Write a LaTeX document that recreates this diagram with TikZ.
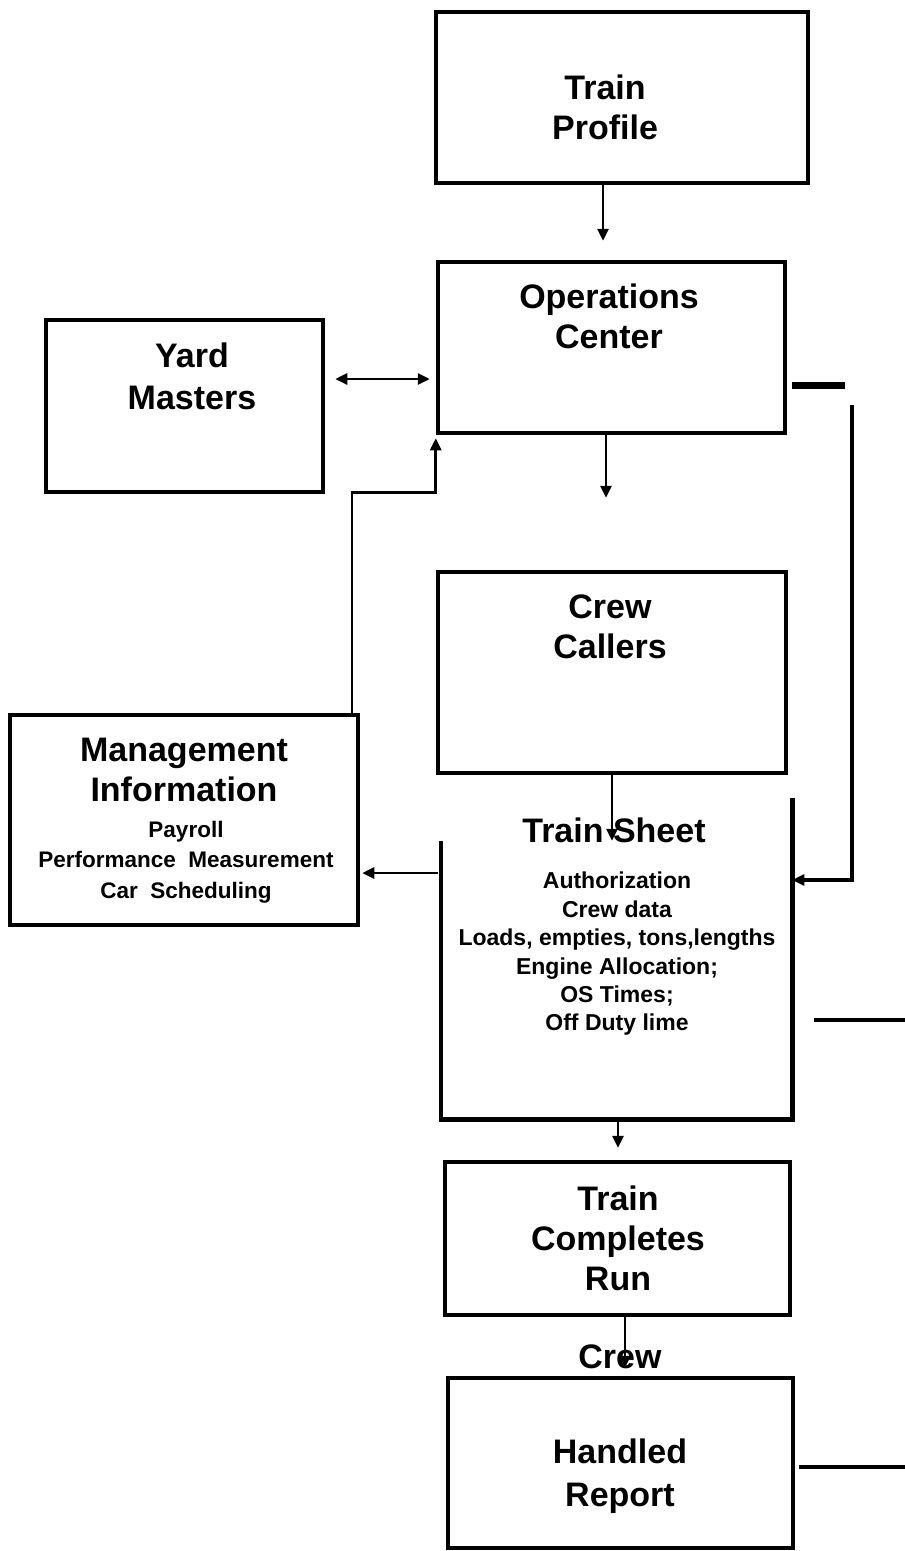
\documentclass[tikz,border=0pt]{standalone}
\usepackage{fontspec}
\setmainfont{Liberation Sans}
\usetikzlibrary{arrows.meta}

\begin{document}
\begin{tikzpicture}[x=1pt,y=-1pt,>={Triangle[length=12pt,width=11pt]},
    box/.style={draw,line width=4.5pt,rectangle,inner sep=0pt},
    title/.style={font=\fontsize{34}{40}\selectfont\bfseries,align=center},
    items/.style={font=\fontsize{23}{28.4}\selectfont\bfseries,align=center},
    subitems/.style={font=\fontsize{22.5}{30.5}\selectfont\bfseries,align=center},
    arr/.style={line width=2.8pt,->},
    link/.style={line width=2.8pt}]
    \useasboundingbox[fill=white] (0,0) rectangle (905,1551);

    \node[box,minimum width=372pt,minimum height=171pt] (tp) at (622,97.5) {};
    \node[box,minimum width=347pt,minimum height=171pt] (oc) at (611.5,347.5) {};
    \node[box,minimum width=277pt,minimum height=172pt] (ym) at (184.5,406) {};
    \node[box,minimum width=348pt,minimum height=201pt] (cc) at (612,672.5) {};
    \node[box,minimum width=348pt,minimum height=210pt] (mi) at (184,820) {};
    \node[box,draw=none,minimum width=347pt,minimum height=317pt] (ts) at (616.5,958.5) {};
    \draw[line width=4.5pt] ([yshift=-43pt]ts.north west) -- (ts.south west) -- (ts.south east) -- (ts.north east);
    \node[box,minimum width=345pt,minimum height=153pt] (tc) at (617.5,1238.5) {};
    \node[box,minimum width=345pt,minimum height=170pt] (hr) at (620.5,1463) {};

    \node[title] (tpText) at (605,107.5) {Train\\Profile};
    \node[title] (ocText) at (609,316) {Operations\\Center};
    \node[title,font=\fontsize{34}{42}\selectfont\bfseries] (ymText) at (192,376) {Yard\\Masters};
    \node[title] (ccText) at (610,626.5) {Crew\\Callers};
    \node[title] (miText) at (184,770) {Management\\Information};
    \node[subitems] (miItems) at (186,862) {Payroll\\Performance\ \ Measurement\\Car\ \ Scheduling};
    \node[title] (tsText) at (614,830) {Train Sheet};
    \node[items] (tsItems) at (617,954) {Authorization\\Crew data\\Loads, empties, tons,lengths\\Engine Allocation;\\OS Times;\\Off Duty lime};
    \node[title] (tcText) at (618,1238) {Train\\Completes\\Run};
    \node[title,font=\fontsize{34}{43}\selectfont\bfseries] (hrText) at (620,1476) {Handled\\Report};
    \node[title] (crew) at (620,1357) {Crew};

    \coordinate (ocStub) at (845,385);
    \coordinate (loopTop) at (852,405);
    \coordinate (tsStub) at (905,1020);
    \coordinate (hrStub) at (905,1467);

    \draw[arr] ([xshift=-19pt]tp.south) -- ([xshift=-8.5pt,yshift=19pt]oc.north);
    \draw[link,<->] ([xshift=10pt,yshift=27pt]ym.east) -- ([xshift=-6pt,yshift=-31.5pt]oc.west);
    \draw[line width=7pt] ([xshift=5pt,yshift=-37.5pt]oc.east) -- (ocStub);
    \draw[arr,line width=3.5pt] (loopTop) |- ([yshift=78.5pt]ts.east);
    \draw[arr] ([xshift=-5.5pt]oc.south) -- ([xshift=-6pt,yshift=72pt]cc.north);
    \draw[arr] (cc.south) -- ([xshift=-4.5pt,yshift=-43pt]ts.north);
    \draw[arr] ([xshift=-3pt,yshift=85.5pt]ts.west) -- ([xshift=2pt,yshift=-53pt]mi.east);
    \draw[arr] ([xshift=168pt]mi.north) |- ([yshift=-57pt]oc.south west) -- ([yshift=-3pt]oc.south west);
    \draw[link,line width=3.5pt] ([xshift=22pt,yshift=-61.5pt]ts.east) -- (tsStub);
    \draw[arr] ([xshift=1.5pt]ts.south) -- ([xshift=0.5pt,yshift=12pt]tc.north);
    \draw[arr] ([xshift=7.5pt]tc.south) -- ([xshift=4.5pt,yshift=8pt]hr.north);
    \draw[link,line width=3.5pt] ([xshift=4pt,yshift=-4pt]hr.east) -- (hrStub);
\end{tikzpicture}
\end{document}
